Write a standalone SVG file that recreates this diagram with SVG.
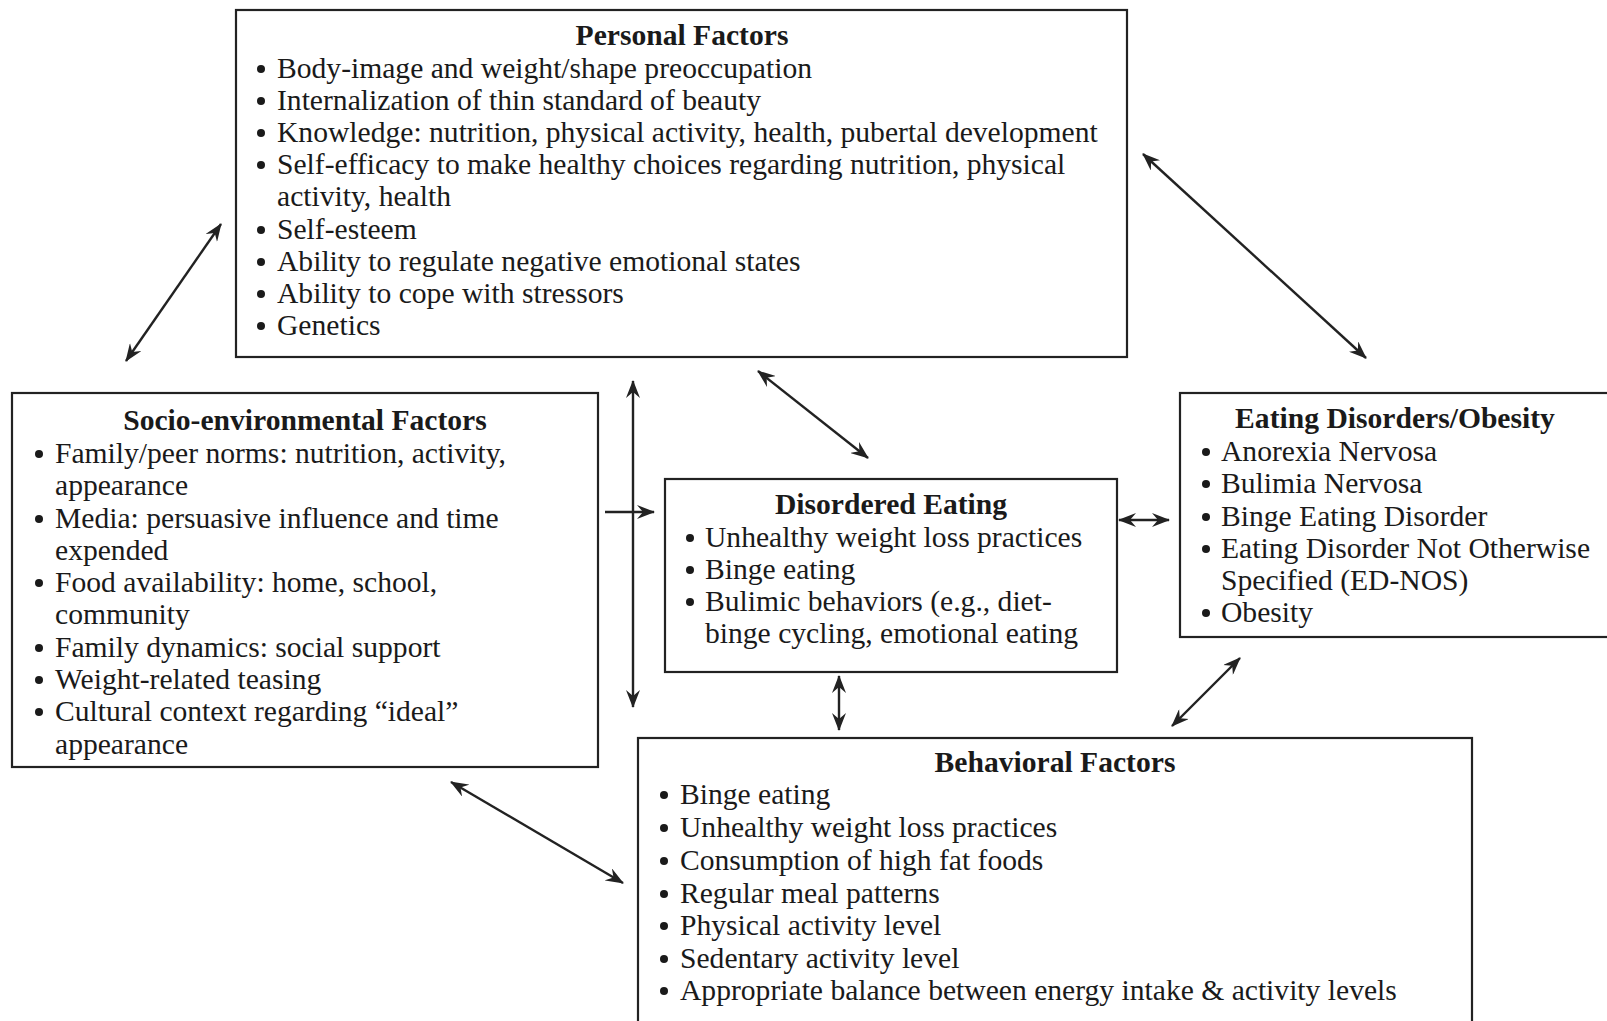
<svg xmlns="http://www.w3.org/2000/svg" width="1607" height="1021" viewBox="0 0 1607 1021">
<style>
.box{fill:#fff;stroke:#222;stroke-width:2.2}
text{font-family:"Liberation Serif","Times New Roman",serif;font-size:29.6px;fill:#1a1a1a}
.title{font-weight:bold;text-anchor:middle}
.dot{fill:#1a1a1a}
.conn line{stroke:#222;stroke-width:2.4;fill:none}
</style>
<defs>
<marker id="ah" viewBox="0 0 18 14" refX="17" refY="7" markerWidth="18" markerHeight="14" markerUnits="userSpaceOnUse" orient="auto-start-reverse">
<path d="M0,0 L18,7 L0,14 L6,7 z" fill="#222"/>
</marker>
</defs>
<rect width="1607" height="1021" fill="#fff"/>

<g id="personal">
<rect class="box" x="236" y="10" width="891" height="347"/>
<text class="title" x="682" y="45">Personal Factors</text>
<g class="dot"><circle cx="261" cy="69" r="4"/><circle cx="261" cy="101" r="4"/><circle cx="261" cy="133" r="4"/><circle cx="261" cy="165" r="4"/><circle cx="261" cy="230" r="4"/><circle cx="261" cy="262" r="4"/><circle cx="261" cy="294" r="4"/><circle cx="261" cy="326" r="4"/></g>
<text x="277" y="78">Body-image and weight/shape preoccupation</text>
<text x="277" y="110">Internalization of thin standard of beauty</text>
<text x="277" y="142">Knowledge: nutrition, physical activity, health, pubertal development</text>
<text x="277" y="174">Self-efficacy to make healthy choices regarding nutrition, physical</text>
<text x="277" y="206">activity, health</text>
<text x="277" y="239">Self-esteem</text>
<text x="277" y="271">Ability to regulate negative emotional states</text>
<text x="277" y="303">Ability to cope with stressors</text>
<text x="277" y="335">Genetics</text>
</g>

<g id="socio">
<rect class="box" x="12" y="393" width="586" height="374"/>
<text class="title" x="305" y="430">Socio-environmental Factors</text>
<g class="dot"><circle cx="39" cy="454" r="4"/><circle cx="39" cy="519" r="4"/><circle cx="39" cy="583" r="4"/><circle cx="39" cy="648" r="4"/><circle cx="39" cy="680" r="4"/><circle cx="39" cy="712" r="4"/></g>
<text x="55" y="463">Family/peer norms: nutrition, activity,</text>
<text x="55" y="495">appearance</text>
<text x="55" y="528">Media: persuasive influence and time</text>
<text x="55" y="560">expended</text>
<text x="55" y="592">Food availability: home, school,</text>
<text x="55" y="624">community</text>
<text x="55" y="657">Family dynamics: social support</text>
<text x="55" y="689">Weight-related teasing</text>
<text x="55" y="721">Cultural context regarding “ideal”</text>
<text x="55" y="754">appearance</text>
</g>

<g id="disordered">
<rect class="box" x="665" y="479" width="452" height="193"/>
<text class="title" x="891" y="514">Disordered Eating</text>
<g class="dot"><circle cx="690" cy="538" r="4"/><circle cx="690" cy="570" r="4"/><circle cx="690" cy="602" r="4"/></g>
<text x="705" y="547">Unhealthy weight loss practices</text>
<text x="705" y="579">Binge eating</text>
<text x="705" y="611">Bulimic behaviors (e.g., diet-</text>
<text x="705" y="643">binge cycling, emotional eating</text>
</g>

<g id="eating-disorders">
<rect class="box" x="1180" y="393" width="430" height="244"/>
<text class="title" x="1395" y="428">Eating Disorders/Obesity</text>
<g class="dot"><circle cx="1206" cy="452" r="4"/><circle cx="1206" cy="484" r="4"/><circle cx="1206" cy="517" r="4"/><circle cx="1206" cy="549" r="4"/><circle cx="1206" cy="613" r="4"/></g>
<text x="1221" y="461">Anorexia Nervosa</text>
<text x="1221" y="493">Bulimia Nervosa</text>
<text x="1221" y="526">Binge Eating Disorder</text>
<text x="1221" y="558">Eating Disorder Not Otherwise</text>
<text x="1221" y="590">Specified (ED-NOS)</text>
<text x="1221" y="622">Obesity</text>
</g>

<g id="behavioral">
<rect class="box" x="638" y="738" width="834" height="290"/>
<text class="title" x="1055" y="772">Behavioral Factors</text>
<g class="dot"><circle cx="664" cy="795" r="4"/><circle cx="664" cy="828" r="4"/><circle cx="664" cy="861" r="4"/><circle cx="664" cy="894" r="4"/><circle cx="664" cy="926" r="4"/><circle cx="664" cy="959" r="4"/><circle cx="664" cy="991" r="4"/></g>
<text x="680" y="804">Binge eating</text>
<text x="680" y="837">Unhealthy weight loss practices</text>
<text x="680" y="870">Consumption of high fat foods</text>
<text x="680" y="903">Regular meal patterns</text>
<text x="680" y="935">Physical activity level</text>
<text x="680" y="968">Sedentary activity level</text>
<text x="680" y="1000">Appropriate balance between energy intake &amp; activity levels</text>
</g>

<g id="connectors" class="conn">
<line x1="126" y1="361" x2="221" y2="224" marker-start="url(#ah)" marker-end="url(#ah)"/>
<line x1="1143" y1="154" x2="1366" y2="358" marker-start="url(#ah)" marker-end="url(#ah)"/>
<line x1="633" y1="381" x2="633" y2="707" marker-start="url(#ah)" marker-end="url(#ah)"/>
<line x1="605" y1="512" x2="654" y2="512" marker-end="url(#ah)"/>
<line x1="758" y1="371" x2="868" y2="458" marker-start="url(#ah)" marker-end="url(#ah)"/>
<line x1="1119" y1="520" x2="1169" y2="520" marker-start="url(#ah)" marker-end="url(#ah)"/>
<line x1="839" y1="676" x2="839" y2="730" marker-start="url(#ah)" marker-end="url(#ah)"/>
<line x1="1240" y1="658" x2="1172" y2="726" marker-start="url(#ah)" marker-end="url(#ah)"/>
<line x1="451" y1="782" x2="623" y2="883" marker-start="url(#ah)" marker-end="url(#ah)"/>
</g>
</svg>
